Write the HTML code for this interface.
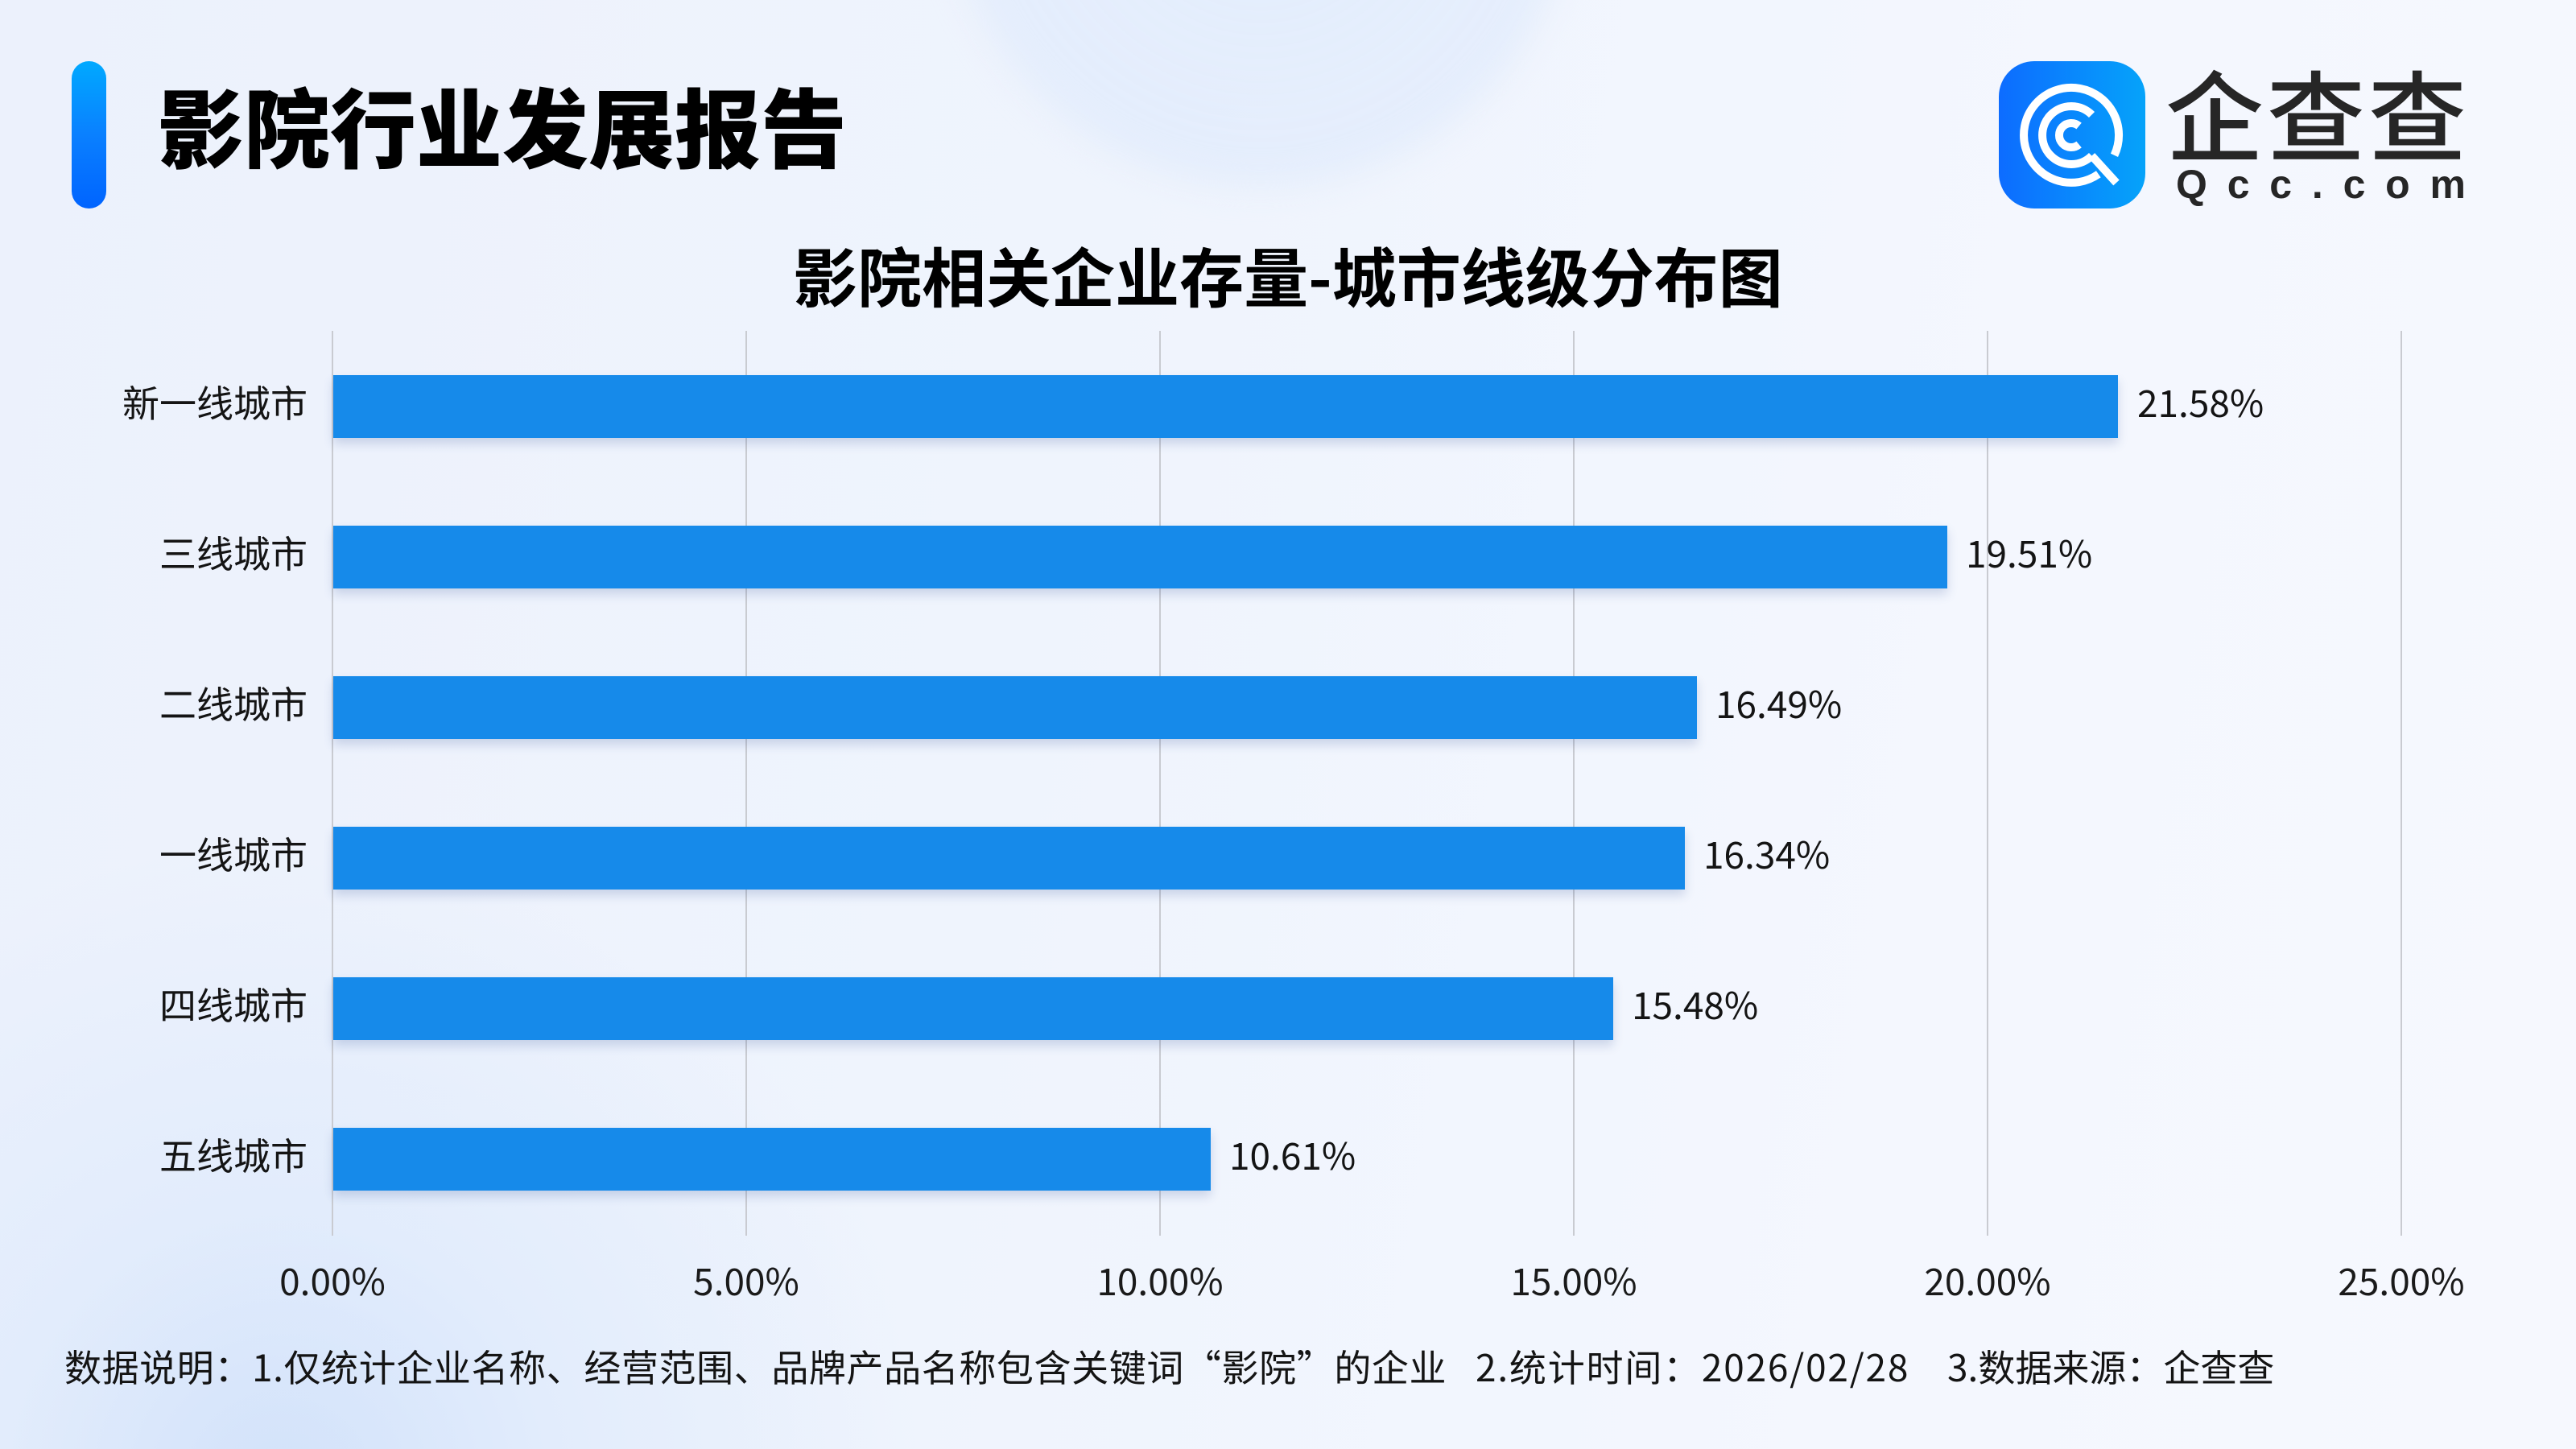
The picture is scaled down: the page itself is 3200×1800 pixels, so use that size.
<!DOCTYPE html>
<html>
<head>
<meta charset="utf-8">
<style>
html,body{margin:0;padding:0;}
body{width:3200px;height:1800px;position:relative;overflow:hidden;
font-family:"Liberation Sans","Noto Sans CJK SC",sans-serif;
background:
 radial-gradient(circle at 350px 1850px, rgba(205,223,250,0.85) 0px, rgba(215,230,251,0.5) 350px, rgba(230,239,252,0) 800px),
 linear-gradient(100deg,#ecf1fc 0%,#eff4fd 40%,#f4f7fe 75%,#f6f8fe 100%);}
.abs{position:absolute;white-space:nowrap;}
.cjk{font-family:"Noto Sans CJK SC","Liberation Sans",sans-serif;}
.num{font-family:"Noto Sans CJK SC","Liberation Sans",sans-serif;}
.circle{position:absolute;left:1176px;top:-547px;width:780px;height:780px;border-radius:50%;
 background:radial-gradient(circle, rgba(226,236,252,0.9) 0%, rgba(226,236,252,0.8) 70%, rgba(226,236,252,0) 100%);filter:blur(20px);}
.grid{position:absolute;top:411px;height:1124px;width:2px;background:#c9cbd1;}
.bar{position:absolute;left:414px;height:78px;background:#168aea;box-shadow:0 7px 12px rgba(50,80,150,0.2);}
.lab{position:absolute;right:2818px;font-size:46px;line-height:46px;color:#141414;text-align:right;}
.val{position:absolute;font-size:46px;line-height:46px;color:#141414;}
.tick{position:absolute;width:300px;top:1567px;font-size:46px;line-height:46px;color:#1a1a1a;text-align:center;}
</style>
</head>
<body>
<div class="circle"></div>

<!-- header -->
<div class="abs" style="left:89px;top:76px;width:43px;height:183px;border-radius:22px;background:linear-gradient(180deg,#00a9ff 0%,#0a80ff 50%,#0064ff 100%);"></div>
<div class="abs cjk" style="left:196px;top:100px;font-size:107px;line-height:107px;font-weight:900;letter-spacing:0px;color:#000;">影院行业发展报告</div>

<!-- logo -->
<svg class="abs" style="left:2483px;top:76px;" width="182" height="183" viewBox="0 0 182 183">
 <defs>
  <linearGradient id="lg" x1="0" y1="0" x2="1" y2="0">
   <stop offset="0" stop-color="#0d6cff"/>
   <stop offset="1" stop-color="#05a3fa"/>
  </linearGradient>
 </defs>
 <rect x="0" y="0" width="182" height="183" rx="44" ry="44" fill="url(#lg)"/>
 <g fill="none" stroke="#ffffff" stroke-width="10">
  <path d="M123.8 140.3 A59 59 0 1 1 143.5 116.9"/>
  <path d="M115.5 117.5 A36 36 0 1 1 115.5 66.5"/>
  <path d="M115.5 117.5 L146 151"/>
  <path d="M99.6 103.5 A15 15 0 1 1 99.6 80.5"/>
 </g>
</svg>
<div class="abs cjk" style="left:2690px;top:78px;font-size:122px;line-height:122px;font-weight:500;letter-spacing:4px;color:#262626;">企查查</div>
<div class="abs" style="left:2703px;top:204px;width:360px;display:flex;justify-content:space-between;font-family:'Liberation Sans',sans-serif;font-weight:bold;font-size:50px;line-height:50px;color:#262626;">
 <span>Q</span><span>c</span><span>c</span><span>.</span><span>c</span><span>o</span><span>m</span>
</div>

<!-- chart title -->
<div class="abs cjk" style="left:0;width:3200px;text-align:center;top:301px;font-size:80px;line-height:80px;font-weight:700;color:#000;">影院相关企业存量-城市线级分布图</div>

<!-- grid -->
<div class="grid" style="left:412px;"></div>
<div class="grid" style="left:926px;"></div>
<div class="grid" style="left:1440px;"></div>
<div class="grid" style="left:1954px;"></div>
<div class="grid" style="left:2468px;"></div>
<div class="grid" style="left:2982px;"></div>

<!-- bars -->
<div class="bar" style="top:466px;width:2217px;"></div>
<div class="bar" style="top:653px;width:2005px;"></div>
<div class="bar" style="top:840px;width:1694px;"></div>
<div class="bar" style="top:1027px;width:1679px;"></div>
<div class="bar" style="top:1214px;width:1590px;"></div>
<div class="bar" style="top:1401px;width:1090px;"></div>

<!-- category labels -->
<div class="lab cjk" style="top:476px;">新一线城市</div>
<div class="lab cjk" style="top:663px;">三线城市</div>
<div class="lab cjk" style="top:850px;">二线城市</div>
<div class="lab cjk" style="top:1037px;">一线城市</div>
<div class="lab cjk" style="top:1224px;">四线城市</div>
<div class="lab cjk" style="top:1411px;">五线城市</div>

<!-- value labels -->
<div class="val num" style="left:2655px;top:476px;">21.58%</div>
<div class="val num" style="left:2442px;top:663px;">19.51%</div>
<div class="val num" style="left:2131px;top:850px;">16.49%</div>
<div class="val num" style="left:2116px;top:1037px;">16.34%</div>
<div class="val num" style="left:2027px;top:1224px;">15.48%</div>
<div class="val num" style="left:1527px;top:1411px;">10.61%</div>

<!-- ticks -->
<div class="tick num" style="left:263px;">0.00%</div>
<div class="tick num" style="left:777px;">5.00%</div>
<div class="tick num" style="left:1291px;">10.00%</div>
<div class="tick num" style="left:1805px;">15.00%</div>
<div class="tick num" style="left:2319px;">20.00%</div>
<div class="tick num" style="left:2833px;">25.00%</div>

<!-- footnote -->
<div class="abs cjk" style="left:80px;top:1674px;font-size:46px;line-height:46px;letter-spacing:0.6px;color:#141414;">数据说明：1.仅统计企业名称、经营范围、品牌产品名称包含关键词“影院”的企业</div>
<div class="abs cjk" style="left:1833px;top:1674px;font-size:46px;line-height:46px;letter-spacing:1.8px;color:#141414;">2.统计时间：2026/02/28</div>
<div class="abs cjk" style="left:2419px;top:1674px;font-size:46px;line-height:46px;color:#141414;">3.数据来源：企查查</div>
</body>
</html>
